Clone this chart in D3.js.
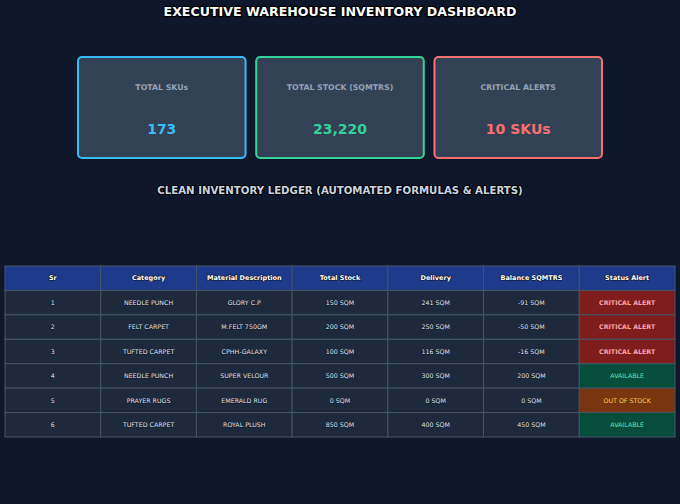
<!DOCTYPE html>
<html>
<head>
<meta charset="utf-8">
<script src="https://cdn.jsdelivr.net/npm/d3@7"></script>
<style>
  html, body { margin: 0; padding: 0; background: #0f172a; }
  svg { display: block; }
  text { font-family: "DejaVu Sans", sans-serif; }
</style>
</head>
<body>
<svg id="chart"></svg>
<script>
// ---- data ----
const cardLabels = ["TOTAL SKUs", "TOTAL STOCK (SQMTRS)", "CRITICAL ALERTS"];
const cardValues = ["173", "23,220", "10 SKUs"];
const cardColors = ["#38bdf8", "#34d399", "#f87171"];

const columns = ["Sr", "Category", "Material Description", "Total Stock", "Delivery", "Balance SQMTRS", "Status Alert"];
const srNumbers = [1, 2, 3, 4, 5, 6];
const categories = ["NEEDLE PUNCH", "FELT CARPET", "TUFTED CARPET", "NEEDLE PUNCH", "PRAYER RUGS", "TUFTED CARPET"];
const materials = ["GLORY C.P", "M.FELT 750GM", "CPHH-GALAXY", "SUPER VELOUR", "EMERALD RUG", "ROYAL PLUSH"];
const totalStock = [150, 200, 100, 500, 0, 850];
const delivery = [241, 250, 116, 300, 0, 400];
const balance = [-91, -50, -16, 200, 0, 450];
const statusAlert = ["CRITICAL ALERT", "CRITICAL ALERT", "CRITICAL ALERT", "AVAILABLE", "OUT OF STOCK", "AVAILABLE"];

const statusStyle = {
    "CRITICAL ALERT": { fill: "#7f1d1d", text: "#fca5a5", weight: "bold" },
    "AVAILABLE": { fill: "#064e3b", text: "#6ee7b7", weight: "normal" },
    "OUT OF STOCK": { fill: "#78350f", text: "#fcd34d", weight: "normal" }
};

const width = 680, height = 504;

const svg = d3.select("#chart")
    .attr("width", width)
    .attr("height", height);

svg.append("rect")
    .attr("width", width)
    .attr("height", height)
    .attr("fill", "#0f172a");

// title
svg.append("text")
    .attr("x", width / 2)
    .attr("y", 15.5)
    .attr("text-anchor", "middle")
    .style("font-size", "12.6px")
    .style("font-weight", "bold")
    .attr("fill", "#ffffff")
    .attr("stroke", "#000000")
    .attr("stroke-width", 2.5)
    .attr("stroke-linejoin", "round")
    .attr("paint-order", "stroke")
    .text("EXECUTIVE WAREHOUSE INVENTORY DASHBOARD");

// ---- KPI cards ----
const cardScale = d3.scaleBand()
    .domain(d3.range(cardLabels.length))
    .range([78, 602])
    .paddingInner(0.06);

const cards = svg.append("g").selectAll("g")
    .data(cardLabels.map((label, i) => ({ label, value: cardValues[i], color: cardColors[i] })))
    .join("g")
    .attr("transform", (d, i) => `translate(${cardScale(i)}, 57)`);

cards.append("rect")
    .attr("width", cardScale.bandwidth())
    .attr("height", 101)
    .attr("rx", 4)
    .attr("ry", 4)
    .attr("fill", "#334155")
    .attr("stroke", d => d.color)
    .attr("stroke-width", 2);

cards.append("text")
    .attr("x", cardScale.bandwidth() / 2)
    .attr("y", 32.5)
    .attr("text-anchor", "middle")
    .style("font-size", "7.8px")
    .style("font-weight", "bold")
    .attr("fill", "#94a3b8")
    .text(d => d.label);

cards.append("text")
    .attr("x", cardScale.bandwidth() / 2)
    .attr("y", 76.5)
    .attr("text-anchor", "middle")
    .style("font-size", "14px")
    .style("font-weight", "bold")
    .attr("fill", d => d.color)
    .text(d => d.value);

// subtitle
svg.append("text")
    .attr("x", width / 2)
    .attr("y", 193.5)
    .attr("text-anchor", "middle")
    .style("font-size", "10.2px")
    .style("font-weight", "bold")
    .attr("fill", "#cbd5e1")
    .attr("stroke", "#000000")
    .attr("stroke-width", 2)
    .attr("stroke-linejoin", "round")
    .attr("paint-order", "stroke")
    .text("CLEAN INVENTORY LEDGER (AUTOMATED FORMULAS & ALERTS)");

// ---- table ----
const rows = srNumbers.map((sr, i) => [
    String(sr),
    categories[i],
    materials[i],
    totalStock[i] + " SQM",
    delivery[i] + " SQM",
    balance[i] + " SQM",
    statusAlert[i]
]);

const xCol = d3.scaleBand()
    .domain(d3.range(columns.length))
    .range([5, 675]);

const yRow = d3.scaleBand()
    .domain(d3.range(rows.length + 1))
    .range([266, 437]);

const table = svg.append("g");

// header
const header = table.append("g").selectAll("g")
    .data(columns)
    .join("g")
    .attr("transform", (d, i) => `translate(${xCol(i)}, ${yRow(0)})`);

header.append("rect")
    .attr("width", xCol.bandwidth())
    .attr("height", yRow.bandwidth())
    .attr("fill", "#1e3a8a")
    .attr("stroke", "#475569")
    .attr("stroke-width", 1);

header.append("text")
    .attr("x", xCol.bandwidth() / 2)
    .attr("y", yRow.bandwidth() / 2)
    .attr("dy", "0.35em")
    .attr("text-anchor", "middle")
    .style("font-size", "6.5px")
    .style("font-weight", "bold")
    .attr("fill", "#ffffff")
    .attr("stroke", "#0f172a")
    .attr("stroke-width", 1.2)
    .attr("paint-order", "stroke")
    .text(d => d);

// body cells
const cellData = [];
rows.forEach((row, r) => row.forEach((val, c) => cellData.push({ r, c, val })));

const cells = table.append("g").selectAll("g")
    .data(cellData)
    .join("g")
    .attr("transform", d => `translate(${xCol(d.c)}, ${yRow(d.r + 1)})`);

cells.append("rect")
    .attr("width", xCol.bandwidth())
    .attr("height", yRow.bandwidth())
    .attr("fill", d => d.c === 6 ? statusStyle[d.val].fill : "#1e293b")
    .attr("stroke", "#475569")
    .attr("stroke-width", 1);

cells.append("text")
    .attr("x", xCol.bandwidth() / 2)
    .attr("y", yRow.bandwidth() / 2)
    .attr("dy", "0.35em")
    .attr("text-anchor", "middle")
    .style("font-size", "6.3px")
    .style("font-weight", d => d.c === 6 ? statusStyle[d.val].weight : "normal")
    .attr("fill", d => d.c === 6 ? statusStyle[d.val].text : "#e2e8f0")
    .attr("stroke", "#0f172a")
    .attr("stroke-width", d => d.c === 6 ? 0 : 0.8)
    .attr("paint-order", "stroke")
    .text(d => d.val);
</script>
</body>
</html>
